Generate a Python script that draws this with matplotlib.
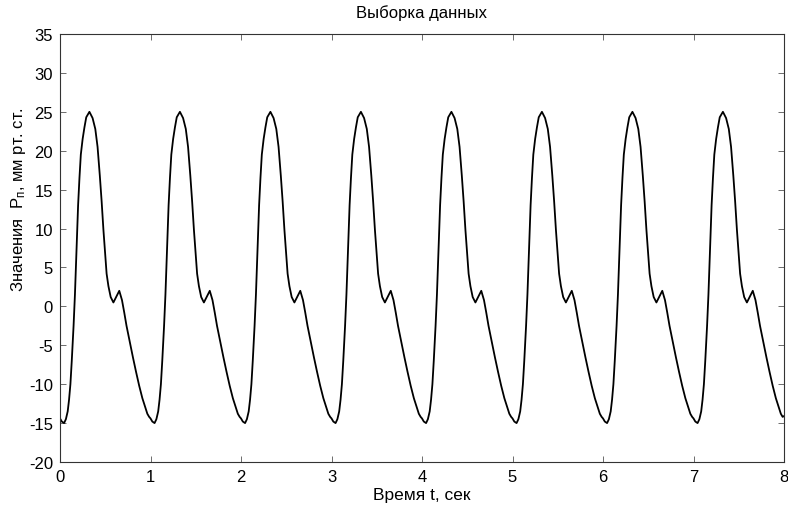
import numpy as np
import matplotlib
matplotlib.use('Agg')
import matplotlib.pyplot as plt

# Один период сигнала давления (фаза, сек) и значения, мм рт. ст.
phase = [0.00, 0.02, 0.045, 0.065, 0.085, 0.10, 0.115, 0.13, 0.15, 0.165,
         0.185, 0.20, 0.215, 0.23, 0.25, 0.27, 0.29, 0.325, 0.36, 0.39,
         0.415, 0.44, 0.46, 0.48, 0.50, 0.515, 0.535, 0.56, 0.59, 0.62,
         0.655, 0.685, 0.71, 0.735, 0.77, 0.805, 0.84, 0.875, 0.91, 0.94,
         0.965, 0.985]
pressure = [-14.4, -14.8, -15.0, -14.5, -13.5, -12.0, -10.0, -7.0, -2.5, 1.5,
            8.0, 13.0, 16.5, 19.5, 21.5, 23.0, 24.3, 25.0, 24.2, 22.8,
            20.5, 16.8, 13.5, 9.8, 6.5, 4.2, 2.6, 1.2, 0.5, 1.2,
            2.0, 0.8, -0.8, -2.5, -4.5, -6.5, -8.4, -10.2, -11.8, -12.9,
            -13.8, -14.2]
n_periods = 8
end_value = -14.1

# Склейка периодов в одну выборку
t = np.concatenate([np.array(phase) + k for k in range(n_periods)] + [[n_periods]])
p = np.concatenate([pressure] * n_periods + [[end_value]])

plt.rcParams['font.family'] = ['Liberation Sans', 'DejaVu Sans']
plt.rcParams['font.size'] = 12
plt.rcParams['mathtext.default'] = 'regular'
plt.rcParams['axes.unicode_minus'] = False

fig = plt.figure(figsize=(7.88, 5.10), dpi=100)
ax = fig.add_axes([60 / 788, 1 - 463 / 510, 724 / 788, 428 / 510])
ax.plot(t, p, color='black', linewidth=1.3)

ax.set_xlim(0, 8)
ax.set_ylim(-20, 35)
ax.set_xticks(range(0, 9))
ax.set_yticks(range(-20, 36, 5))
ax.tick_params(direction='in', top=True, right=True, length=4, width=0.6,
               color='#555555', pad=5, labelsize=12)
for s in ax.spines.values():
    s.set_linewidth(0.8)
    s.set_color('#333333')

ax.set_title('Выборка данных', fontsize=12, y=1.051, va='center', pad=0)
ax.set_xlabel('Время t, сек', fontsize=12.5, va='center')
ax.xaxis.set_label_coords(0.5, (463 - 496) / 428)
ax.set_ylabel('Значения  $P_п$, мм рт. ст.', fontsize=12, va='center')
ax.yaxis.set_label_coords((18 - 60) / 724, (463 - 200) / 428)

fig.savefig('out.png', dpi=100)
